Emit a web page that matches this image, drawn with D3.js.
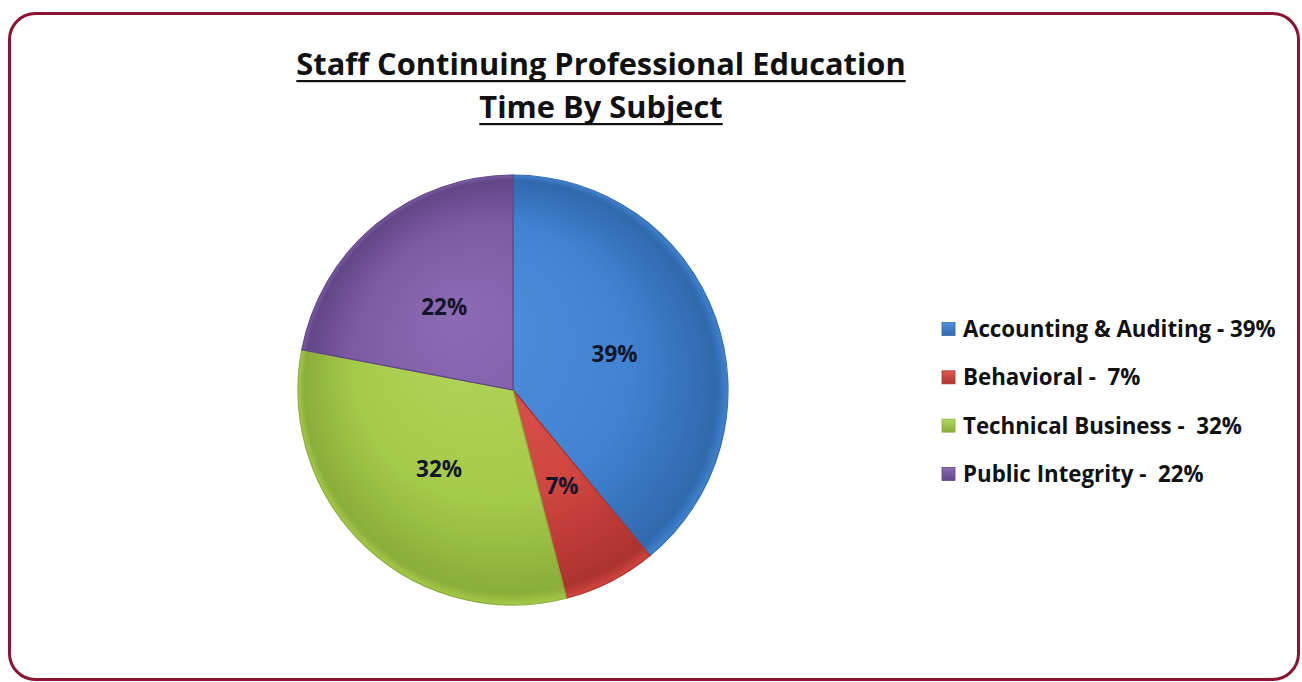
<!DOCTYPE html>
<html>
<head>
<meta charset="utf-8">
<script src="https://cdn.jsdelivr.net/npm/d3@7"></script>
<style>
  body { margin: 0; background: #fff; }
  svg { display: block; }
</style>
</head>
<body>
<script>
  const categories = ['Accounting & Auditing', 'Behavioral', 'Technical Business', 'Public Integrity'];
  const values = [39, 7, 32, 22];
  const legendLabels = ['Accounting & Auditing - 39%', 'Behavioral -  7%', 'Technical Business -  32%', 'Public Integrity -  22%'];
  const titleLines = ['Staff Continuing Professional Education', 'Time By Subject'];

  const colors = ['#4082d1', '#d0453f', '#a5c94a', '#7c5ba3'];
  const darks  = ['#3169ad', '#ad332e', '#8bad3a', '#634688'];
  const lights = ['#5191dd', '#dc5a53', '#b5d65c', '#8b6bb3'];

  const width = 1302, height = 682;
  const cx = 513, cy = 390, radius = 215;

  const svg = d3.select('body').append('svg')
    .attr('width', width)
    .attr('height', height)
    .style('font-family', '"Open Sans", Lato, sans-serif');

  // frame
  svg.append('rect')
    .attr('x', 9.5).attr('y', 13.5)
    .attr('width', 1289).attr('height', 666)
    .attr('rx', 26).attr('ry', 26)
    .attr('fill', '#fff')
    .attr('stroke', '#8a1432')
    .attr('stroke-width', 3);

  const defs = svg.append('defs');
  colors.forEach((c, i) => {
    const g = defs.append('radialGradient')
      .attr('id', 'grad' + i)
      .attr('gradientUnits', 'userSpaceOnUse')
      .attr('cx', 0).attr('cy', 0).attr('r', radius)
      .attr('fx', -60).attr('fy', -80);
    g.append('stop').attr('offset', '0%').attr('stop-color', lights[i]);
    g.append('stop').attr('offset', '65%').attr('stop-color', c);
    g.append('stop').attr('offset', '96%').attr('stop-color', darks[i]);
    g.append('stop').attr('offset', '100%').attr('stop-color', c);

    const lg = defs.append('linearGradient')
      .attr('id', 'lgrad' + i)
      .attr('x1', 0).attr('y1', 0).attr('x2', 0).attr('y2', 1);
    lg.append('stop').attr('offset', '0%').attr('stop-color', lights[i]);
    lg.append('stop').attr('offset', '100%').attr('stop-color', darks[i]);
  });

  // title
  const title = svg.append('g');
  const titleY = [75, 118];
  titleLines.forEach((t, i) => {
    const txt = title.append('text')
      .attr('x', 601)
      .attr('y', titleY[i])
      .attr('text-anchor', 'middle')
      .attr('font-size', 30.8)
      .attr('font-weight', 'bold')
      .attr('fill', '#111')
      .text(t);
    const w = txt.node().getComputedTextLength();
    title.append('rect')
      .attr('x', 601 - w / 2)
      .attr('y', titleY[i] + 5)
      .attr('width', w)
      .attr('height', 2.2)
      .attr('fill', '#111');
  });

  // pie
  const pie = d3.pie().sort(null).value(d => d);
  const arc = d3.arc().innerRadius(0).outerRadius(radius);
  const labelArc = d3.arc().innerRadius(108).outerRadius(108);

  const g = svg.append('g')
    .attr('transform', `translate(${cx},${cy})`);

  const arcs = pie(values);

  g.selectAll('path.slice')
    .data(arcs)
    .enter().append('path')
      .attr('class', 'slice')
      .attr('d', arc)
      .attr('fill', (d, i) => `url(#grad${i})`)
      .attr('stroke', (d, i) => darks[i])
      .attr('stroke-width', 1.2);

  g.selectAll('text.pct')
    .data(arcs)
    .enter().append('text')
      .attr('class', 'pct')
      .attr('transform', d => `translate(${labelArc.centroid(d)})`)
      .attr('text-anchor', 'middle')
      .attr('dy', '0.36em')
      .attr('font-size', 22.5)
      .attr('font-weight', 'bold')
      .attr('fill', '#15152a')
      .text(d => d.data + '%');

  // legend
  const legendY = d3.scalePoint()
    .domain(categories)
    .range([329, 474]);

  const legend = svg.append('g');
  const item = legend.selectAll('g')
    .data(categories)
    .enter().append('g')
      .attr('transform', d => `translate(942,${legendY(d)})`);

  item.append('rect')
    .attr('x', 0).attr('y', -6.5)
    .attr('width', 13).attr('height', 13)
    .attr('fill', (d, i) => `url(#lgrad${i})`)
    .attr('stroke', (d, i) => darks[i])
    .attr('stroke-width', 0.8);

  item.append('text')
    .attr('x', 21)
    .attr('dy', '0.36em')
    .attr('font-size', 22.3)
    .attr('font-weight', 'bold')
    .attr('fill', '#111')
    .style('white-space', 'pre')
    .text((d, i) => legendLabels[i]);
</script>
</body>
</html>
